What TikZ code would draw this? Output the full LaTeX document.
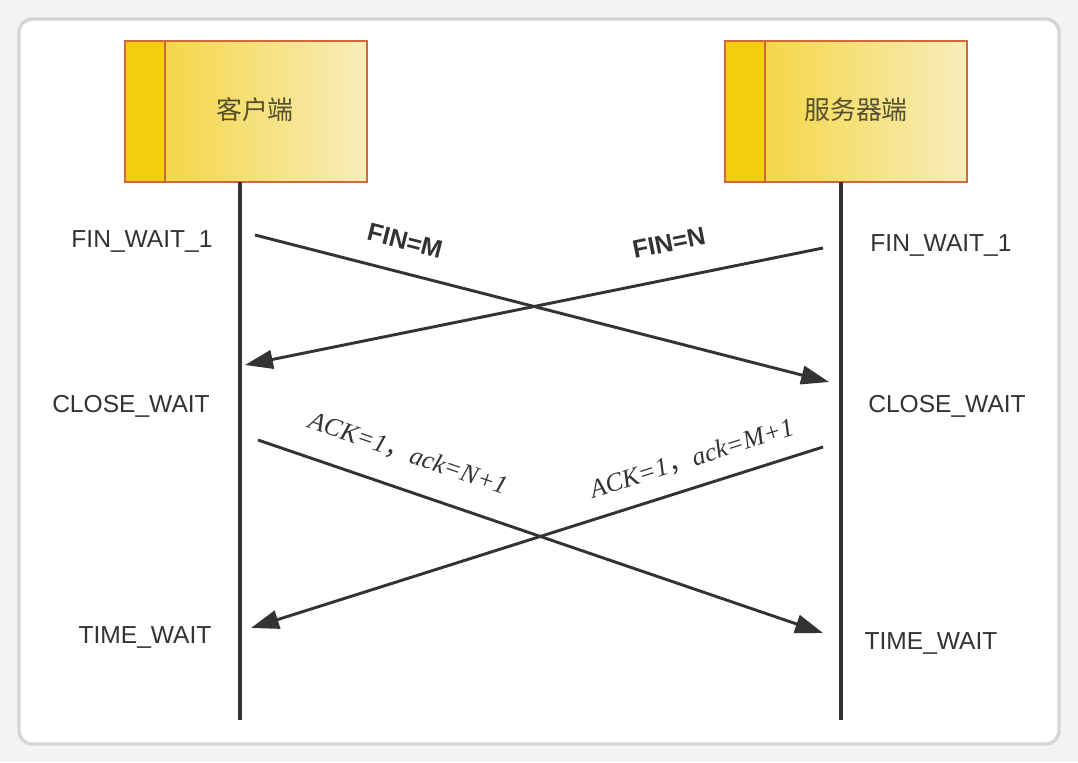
\documentclass[tikz,border=0pt]{standalone}
\usepackage{fontspec}
\setmainfont{Liberation Sans}
\newfontfamily\cjk{Noto Sans CJK SC}
\newfontfamily\ackfont{Liberation Serif}
\usetikzlibrary{arrows.meta}
\definecolor{bgc}{HTML}{F3F3F3}
\definecolor{edgec}{HTML}{D5D5D5}
\definecolor{boxc}{HTML}{D0693A}
\definecolor{stripc}{HTML}{F4CE0E}
\definecolor{goldl}{HTML}{F4D232}
\definecolor{goldr}{HTML}{F8EDBB}
\definecolor{cjkc}{HTML}{55502E}
\definecolor{inkc}{HTML}{333333}

\tikzset{
  actorbox/.style={draw=boxc, line width=1.9pt, left color=goldl, right color=goldr,
                   minimum width=6.40cm, minimum height=3.73cm, inner sep=0pt, outer sep=0pt},
  actorname/.style={font=\cjk\fontsize{19.5}{22}\selectfont, text=cjkc},
  state/.style={font=\fontsize{18.5}{20}\selectfont, text=inkc},
  lifeline/.style={line width=2.3pt, draw=inkc},
  msg/.style={line width=2.2pt, draw=inkc, -{Triangle[length=21pt,width=14pt]}},
  finlbl/.style={font=\bfseries\fontsize{19}{21}\selectfont, text=inkc},
  acklbl/.style={font=\ackfont\itshape\fontsize{19.5}{21}\selectfont, text=inkc}
}

\begin{document}
\begin{tikzpicture}[x=0.02646cm, y=-0.02646cm]
  % page and card
  \fill[bgc] (0,0) rectangle (1078,762);
  \draw[edgec, line width=2.5pt, fill=white, rounded corners=10pt] (19,19) rectangle (1059,744);
  % client / server boxes
  \node[actorbox] (client) at (246,111.5) {};
  \draw[boxc, line width=1.9pt, fill=stripc] (client.north west) rectangle ([xshift=1.06cm]client.south west);
  \node[actorname] (clientlbl) at (255,110) {客户端};
  \node[actorbox] (server) at (846,111.5) {};
  \draw[boxc, line width=1.9pt, fill=stripc] (server.north west) rectangle ([xshift=1.06cm]server.south west);
  \node[actorname] (serverlbl) at (856,110) {服务器端};
  % lifelines
  \coordinate (cend) at (240,720);
  \coordinate (send) at (841,720);
  \draw[lifeline] (cend |- client.south) -- (cend);
  \draw[lifeline] (send |- server.south) -- (send);
  % states
  \node[state] (cfw) at (142,241) {FIN\_WAIT\_1};
  \node[state] (sfw) at (941,245) {FIN\_WAIT\_1};
  \node[state] (ccw) at (131,406) {CLOSE\_WAIT};
  \node[state] (scw) at (947,406) {CLOSE\_WAIT};
  \node[state] (ctw) at (145,637) {TIME\_WAIT};
  \node[state] (stw) at (931,643) {TIME\_WAIT};
  % message end points
  \coordinate (finmA) at (255,235);  \coordinate (finmB) at (829,382);
  \coordinate (finnA) at (823,248);  \coordinate (finnB) at (245,365);
  \coordinate (ackmA) at (258,440);  \coordinate (ackmB) at (823,633);
  \coordinate (acknA) at (823,447);  \coordinate (acknB) at (251,628);
  % FIN exchange
  \draw[msg] (finmA) -- (finmB);
  \draw[msg] (finnA) -- (finnB);
  \node[finlbl, rotate=-14.4] (finm) at (405,241) {FIN=M};
  \node[finlbl, rotate=11.4] (finn) at (669,243) {FIN=N};
  % ACK exchange
  \draw[msg] (ackmA) -- (ackmB);
  \draw[msg] (acknA) -- (acknB);
  \node[acklbl, rotate=-18.9] (ackm) at (408,454) {ACK=1{\cjk ，}ack=N+1};
  \node[acklbl, rotate=17.6] (ackn) at (692,459) {ACK=1{\cjk ，}ack=M+1};
\end{tikzpicture}
\end{document}
